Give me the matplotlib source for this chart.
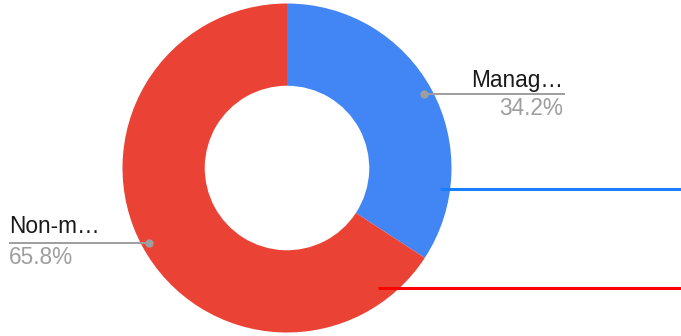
import numpy as np
import matplotlib
matplotlib.use("Agg")
import matplotlib.pyplot as plt

labels = ["Manag…", "Non-m…"]
shares = [34.2, 65.8]
colors = ["#4285f4", "#ea4335"]

W, H = 681, 336
fig = plt.figure(figsize=(W / 100, H / 100), dpi=100)
ax = fig.add_axes([0, 0, 1, 1])

cx, cy, r = 287, 168, 164.5
wedges, _ = ax.pie(shares, colors=colors, startangle=90, counterclock=False,
                   center=(cx, cy), radius=r, frame=True,
                   wedgeprops=dict(width=r * 0.5, linewidth=0))
ax.set_xlim(0, W)
ax.set_ylim(0, H)
ax.set_aspect("equal")
ax.axis("off")

font = dict(family=["Liberation Sans", "DejaVu Sans"], fontsize=16.3)
line_c = "#9e9e9e"

# callouts: dot on the slice, leader line, name above and share below
callouts = [
    dict(dot=(424, 242), x0=424, x1=565, ty=249, py=221, tx=563, ha="right"),
    dict(dot=(149, 93), x0=9, x1=149, ty=103, py=72, tx=9, ha="left"),
]
for lab, val, c in zip(labels, shares, callouts):
    ax.plot([c["x0"], c["x1"]], [c["dot"][1]] * 2, color=line_c, lw=1.4,
            solid_capstyle="butt", zorder=3)
    ax.plot(*c["dot"], "o", color=line_c, ms=6, mec="none", zorder=4)
    ax.text(c["tx"], c["ty"], lab, ha=c["ha"], va="baseline", color="#1a1a1a", **font)
    ax.text(c["tx"], c["py"], f"{val}%", ha=c["ha"], va="baseline", color="#9e9e9e", **font)

# reference lines across the right side
ax.plot([440, W], [147, 147], color="#1a7fff", lw=2.2, solid_capstyle="butt", zorder=5)
ax.plot([378, W], [48, 48], color="#ff0000", lw=2.2, solid_capstyle="butt", zorder=5)

fig.savefig("out.png", dpi=100)
